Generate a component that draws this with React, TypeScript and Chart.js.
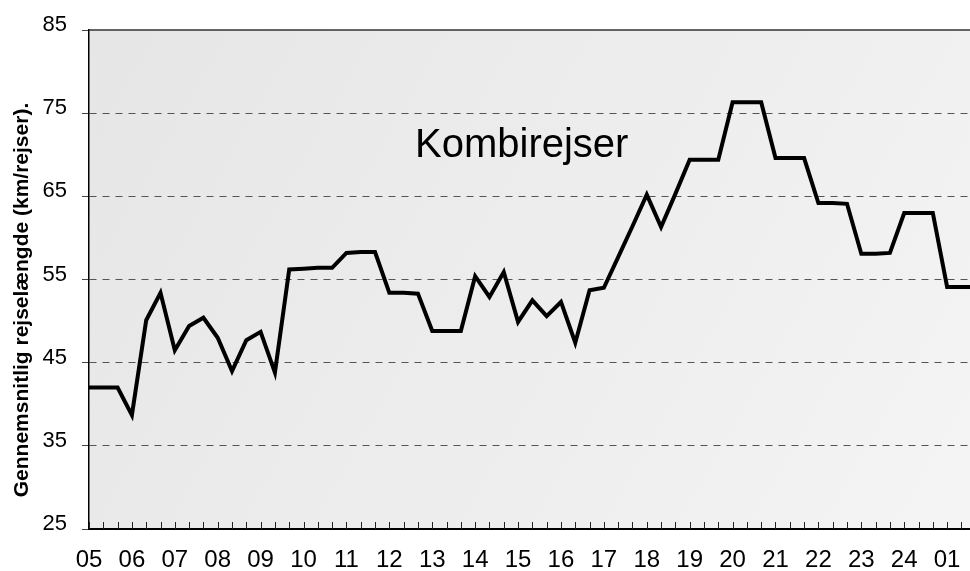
import React, { useEffect, useRef } from 'react';
import { Chart, registerables } from 'chart.js';

Chart.register(...registerables);

// Period labels shown under every third point
const periodLabels = ['05', '06', '07', '08', '09', '10', '11', '12', '13', '14', '15', '16', '17', '18', '19', '20', '21', '22', '23', '24', '01'];

// Average trip length (km/trip), one value per tick mark (last one runs off the right edge)
const kombiValues = [
  42.0, 42.0, 42.0, 38.7, 50.1, 53.4, 46.5, 49.4, 50.4, 48.0,
  44.0, 47.7, 48.7, 43.8, 56.2, 56.3, 56.4, 56.4, 58.2, 58.3,
  58.3, 53.4, 53.4, 53.3, 48.8, 48.8, 48.8, 55.4, 52.9, 55.9,
  49.9, 52.5, 50.6, 52.3, 47.4, 53.7, 54.0, 57.7, 61.4, 65.2,
  61.3, 65.3, 69.4, 69.4, 69.4, 76.3, 76.3, 76.3, 69.6, 69.6,
  69.6, 64.2, 64.2, 64.1, 58.1, 58.1, 58.2, 63.0, 63.0, 63.0,
  54.1, 54.1, 54.1,
];

const yMin = 25;
const yMax = 85;
const yStep = 10;
const xMax = 61.6;
const pointsPerLabel = 3;
const seriesName = 'Kombirejser';
const yAxisTitle = 'Gennemsnitlig rejselængde (km/rejser).';

const FONT = 'Arial, "Liberation Sans", Helvetica, sans-serif';

export default function App() {
  const canvasRef = useRef<HTMLCanvasElement | null>(null);

  useEffect(() => {
    const canvas = canvasRef.current;
    if (!canvas) return;

    const decorPlugin = {
      id: 'decor',
      beforeDraw(chart: any) {
        const { ctx, chartArea } = chart;
        const { left, right, top, bottom } = chartArea;
        ctx.save();
        const g = ctx.createLinearGradient(left, top, right, bottom);
        g.addColorStop(0, '#e6e6e6');
        g.addColorStop(1, '#f4f4f4');
        ctx.fillStyle = g;
        ctx.fillRect(left, top, right - left, bottom - top);
        ctx.restore();
      },
      afterDraw(chart: any) {
        const { ctx, chartArea, scales } = chart;
        const { left, right, top, bottom } = chartArea;
        ctx.save();
        // top border
        ctx.strokeStyle = '#333';
        ctx.lineWidth = 1.5;
        ctx.beginPath();
        ctx.moveTo(left, top);
        ctx.lineTo(right, top);
        ctx.stroke();
        // inward tick marks on x axis
        const xs = scales.x;
        ctx.strokeStyle = '#222';
        ctx.lineWidth = 1;
        xs.ticks.forEach((t: any) => {
          const px = Math.round(xs.getPixelForValue(t.value)) + 0.5;
          if (px > right) return;
          ctx.beginPath();
          ctx.moveTo(px, bottom);
          ctx.lineTo(px, bottom - 7);
          ctx.stroke();
        });
        // series name inside the plot
        ctx.fillStyle = '#000';
        ctx.font = `40px ${FONT}`;
        ctx.textAlign = 'left';
        ctx.textBaseline = 'alphabetic';
        ctx.fillText(seriesName, 415, 157);
        // y axis title
        ctx.translate(28, 300);
        ctx.rotate(-Math.PI / 2);
        ctx.font = `bold 21px ${FONT}`;
        ctx.textAlign = 'center';
        ctx.fillText(yAxisTitle, 0, 0);
        ctx.restore();
      },
    };

    const chart = new Chart(canvas, {
      type: 'line',
      data: {
        datasets: [
          {
            label: seriesName,
            data: kombiValues.map((v, i) => ({ x: i, y: v })),
            borderColor: '#000',
            borderWidth: 4,
            pointRadius: 0,
            tension: 0,
            fill: false,
          },
        ],
      },
      options: {
        responsive: false,
        animation: false,
        layout: { padding: { top: 30, left: 0, right: 0, bottom: 0 } },
        plugins: {
          legend: { display: false },
          tooltip: { enabled: false },
          title: { display: false },
        },
        scales: {
          x: {
            type: 'linear',
            min: 0,
            max: xMax,
            afterBuildTicks: (scale: any) => {
              scale.ticks = kombiValues.map((_, i) => ({ value: i })).filter((t) => t.value <= xMax);
            },
            afterFit: (scale: any) => {
              scale.height = 42;
              scale.paddingRight = 0;
              scale.paddingLeft = 0;
            },
            grid: { display: true, drawOnChartArea: false, drawTicks: false },
            border: { display: true, color: '#000', width: 2 },
            ticks: {
              autoSkip: false,
              maxRotation: 0,
              minRotation: 0,
              padding: 17,
              color: '#000',
              font: { family: FONT, size: 24 },
              callback: (val: any) => {
                const v = Number(val);
                return v % pointsPerLabel === 0 ? periodLabels[v / pointsPerLabel] ?? '' : '';
              },
            },
          },
          y: {
            min: yMin,
            max: yMax,
            afterFit: (scale: any) => {
              scale.width = 89;
            },
            grid: {
              color: (c: any) => (c.tick && (c.tick.value === yMax || c.tick.value === yMin) ? 'rgba(0,0,0,0)' : '#555'),
              lineWidth: 1,
              tickLength: 7,
              tickColor: '#444',
              tickBorderDash: [],
            },
            border: { display: true, color: '#000', width: 1.5, dash: [7, 6] },
            ticks: {
              stepSize: yStep,
              padding: 15,
              labelOffset: -5,
              color: '#000',
              font: { family: FONT, size: 22 },
            },
          },
        },
      },
      plugins: [decorPlugin],
    } as any);

    return () => chart.destroy();
  }, []);

  return (
    <div style={{ position: 'fixed', left: 0, top: 0, width: 970, height: 571, background: '#fff' }}>
      <canvas ref={canvasRef} width={970} height={571} style={{ display: 'block' }} />
    </div>
  );
}
